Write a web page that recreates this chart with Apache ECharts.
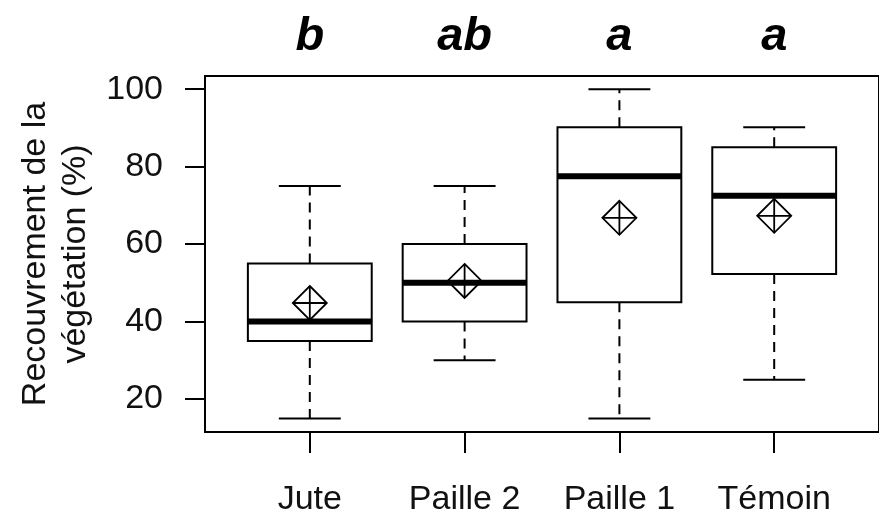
<!DOCTYPE html>
<html lang="fr">
<head>
    <meta charset="UTF-8">
    <script src="https://cdn.jsdelivr.net/npm/echarts@6/dist/echarts.min.js"></script>
    <title>Recouvrement de la végétation</title>
    <style>
        html, body { margin: 0; padding: 0; background: #fff; }
        #chart { width: 879px; height: 517px; }
    </style>
</head>
<body>
    <div id="chart"></div>
    <script>
        // données
        var categories = ['Jute', 'Paille 2', 'Paille 1', 'Témoin'];
        var letters = ['b', 'ab', 'a', 'a'];
        var whiskerLow = [15, 30, 15, 25];
        var q1 = [35, 40, 45, 52.3];
        var median = [40, 50, 77.5, 72.5];
        var q3 = [55, 60, 90.2, 85];
        var whiskerHigh = [75, 75, 100, 90.2];
        var means = [44.8, 50.5, 66.8, 67.3];
        var yTicks = [20, 40, 60, 80, 100];

        var FONT = '"Liberation Sans", Arial, sans-serif';

        var boxData = categories.map(function (c, i) {
            return [i + 1, whiskerLow[i], q1[i], median[i], q3[i], whiskerHigh[i], means[i]];
        });

        // boîte à moustaches façon R : moustaches en tirets, médiane épaisse, moyenne en losange
        function renderBox(params, api) {
            var x = api.value(0);
            var pt = function (v) { return api.coord([x, v]); };
            var half = api.size([0.8, 0])[0] / 2;
            var cap = half / 2;
            var lo = pt(api.value(1)), b1 = pt(api.value(2)), md = pt(api.value(3));
            var b3 = pt(api.value(4)), hi = pt(api.value(5)), mn = pt(api.value(6));
            var cx = lo[0];
            var thin = { stroke: '#000', lineWidth: 2, fill: null };
            var dash = { stroke: '#000', lineWidth: 2, lineDash: [10, 7] };
            var d = 17;

            return {
                type: 'group',
                children: [
                    { type: 'line', shape: { x1: cx, y1: b1[1], x2: cx, y2: lo[1] }, style: dash },
                    { type: 'line', shape: { x1: cx, y1: b3[1], x2: cx, y2: hi[1] }, style: dash },
                    { type: 'line', shape: { x1: cx - cap, y1: lo[1], x2: cx + cap, y2: lo[1] }, style: thin },
                    { type: 'line', shape: { x1: cx - cap, y1: hi[1], x2: cx + cap, y2: hi[1] }, style: thin },
                    {
                        type: 'rect',
                        shape: { x: cx - half, y: b3[1], width: half * 2, height: b1[1] - b3[1] },
                        style: { stroke: '#000', lineWidth: 2, fill: '#fff' }
                    },
                    { type: 'line', shape: { x1: cx - half, y1: md[1], x2: cx + half, y2: md[1] }, style: { stroke: '#000', lineWidth: 6 } },
                    {
                        type: 'polygon',
                        shape: { points: [[cx, mn[1] - d], [cx + d, mn[1]], [cx, mn[1] + d], [cx - d, mn[1]]] },
                        style: { stroke: '#000', lineWidth: 1.8, fill: null }
                    },
                    { type: 'line', shape: { x1: cx - d, y1: mn[1], x2: cx + d, y2: mn[1] }, style: { stroke: '#000', lineWidth: 1.8 } },
                    { type: 'line', shape: { x1: cx, y1: mn[1] - d, x2: cx, y2: mn[1] + d }, style: { stroke: '#000', lineWidth: 1.8 } }
                ]
            };
        }

        var chart = echarts.init(document.getElementById('chart'));

        var tickValues = categories.map(function (c, i) { return i + 1; });

        chart.setOption({
            animation: false,
            backgroundColor: '#fff',
            grid: {
                left: 205, top: 76, width: 682, height: 358,
                show: true, borderColor: '#000', borderWidth: 2, backgroundColor: 'transparent'
            },
            xAxis: [{
                type: 'value', min: 0.323, max: 4.677, position: 'bottom',
                axisLine: { show: false },
                splitLine: { show: false },
                axisTick: { show: true, length: 21, customValues: tickValues, lineStyle: { color: '#000', width: 2 } },
                axisLabel: {
                    customValues: tickValues, margin: 51,
                    fontFamily: FONT, fontSize: 34, color: '#111',
                    formatter: function (v) { return categories[Math.round(v) - 1]; }
                }
            }, {
                type: 'value', min: 0.323, max: 4.677, position: 'top',
                axisLine: { show: false },
                splitLine: { show: false },
                axisTick: { show: false },
                axisLabel: {
                    customValues: tickValues, margin: 15,
                    fontFamily: FONT, fontSize: 47, fontWeight: 'bold', fontStyle: 'italic', color: '#000',
                    formatter: function (v) { return letters[Math.round(v) - 1]; }
                }
            }],
            yAxis: {
                type: 'value', min: 11.5, max: 103.4,
                axisLine: { show: false },
                splitLine: { show: false },
                axisTick: { show: true, length: 20, customValues: yTicks, lineStyle: { color: '#000', width: 2 } },
                axisLabel: {
                    customValues: yTicks, margin: 42,
                    fontFamily: FONT, fontSize: 34, color: '#111',
                    padding: [10, 0, 0, 0]
                },
                name: 'Recouvrement de la\nvégétation (%)',
                nameLocation: 'middle', nameRotate: 90, nameGap: 108,
                nameTextStyle: { fontFamily: FONT, fontSize: 34, color: '#111', lineHeight: 40 }
            },
            series: [{
                type: 'custom',
                xAxisIndex: 0,
                renderItem: renderBox,
                encode: { x: 0, y: [1, 2, 3, 4, 5, 6] },
                data: boxData,
                z: 3
            }]
        });
    </script>
</body>
</html>
